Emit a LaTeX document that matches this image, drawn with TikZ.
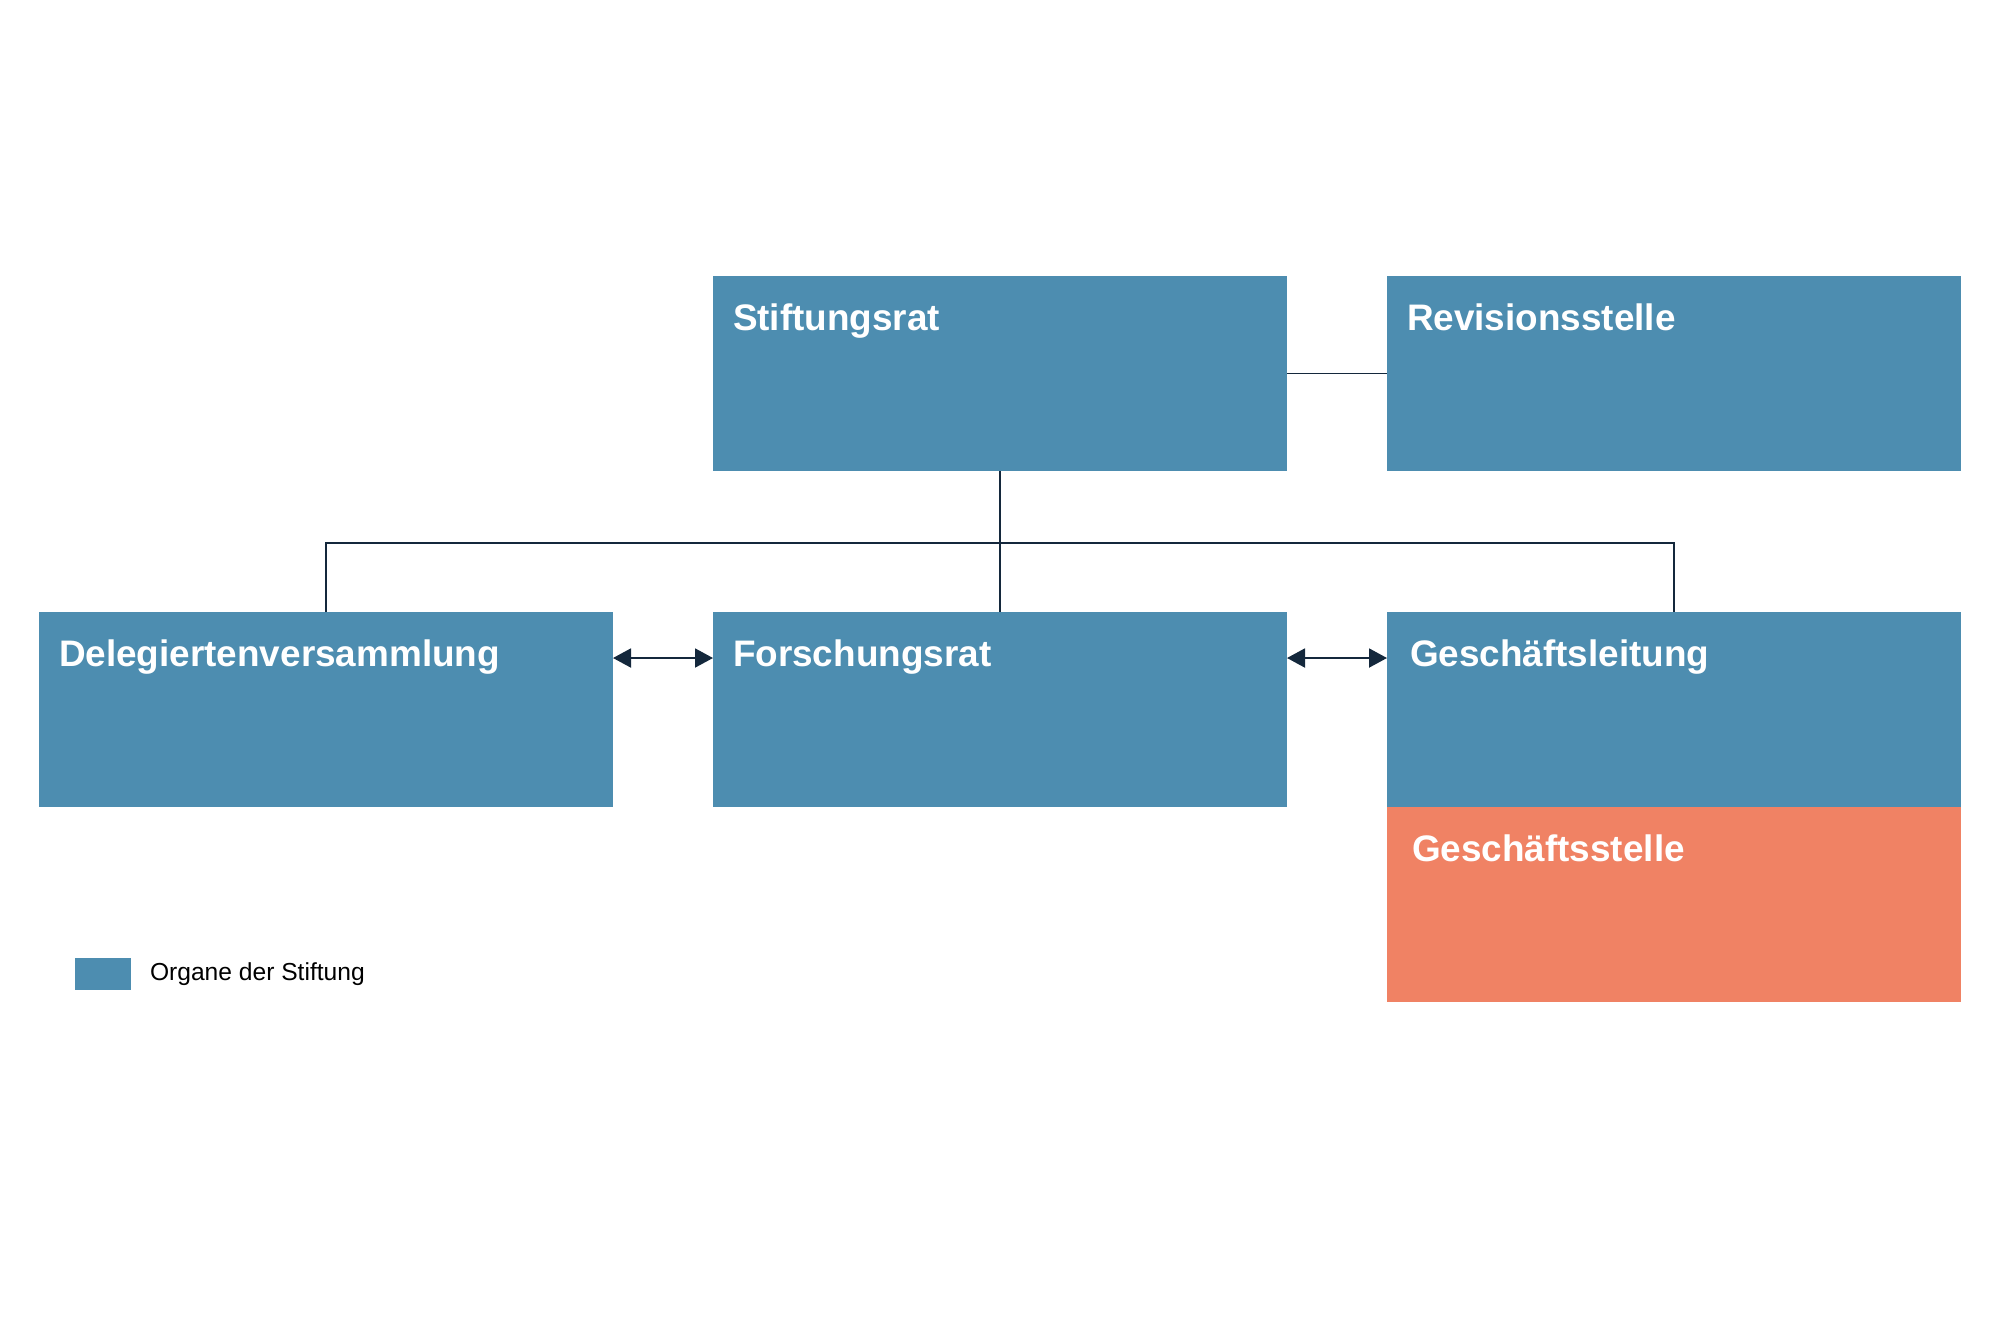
\documentclass[tikz,border=0pt]{standalone}
\usepackage{fontspec}
\setmainfont{Liberation Sans}
\usetikzlibrary{arrows.meta, positioning, calc}
\definecolor{organblau}{RGB}{77,141,176}
\definecolor{stellerot}{RGB}{240,130,100}
\definecolor{linie}{RGB}{20,40,60}
\tikzset{
  organ/.style={
    rectangle, fill=organblau, draw=none, inner xsep=0.4cm, inner ysep=0pt, outer sep=0pt,
    text width=10.68cm, align=left, text height=1.08cm, text depth=2.82cm,
    text=white, font=\bfseries\fontsize{21}{25}\selectfont
  },
  stelle/.style={
    organ, fill=stellerot
  },
  verbindung/.style={
    draw=linie, line width=0.8pt
  },
  pfeil/.style={
    {Triangle[length=0.36cm,width=0.38cm]}-{Triangle[length=0.36cm,width=0.38cm]},
    draw=linie, line width=1.1pt
  }
}

\begin{document}
\begin{tikzpicture}
\useasboundingbox (0,0) rectangle (40,-26.66);
% obere Reihe
\node[organ, anchor=north west] (stiftungsrat) at (14.26,-5.52) {Stiftungsrat};
\node[organ, right=2cm of stiftungsrat] (revision) {Revisionsstelle};
% untere Reihe
\node[organ, below=2.82cm of stiftungsrat] (forschungsrat) {Forschungsrat};
\node[organ, left=2cm of forschungsrat] (delegierte) {Delegiertenversammlung};
\node[organ, right=2cm of forschungsrat] (leitung) {\hspace*{0.06cm}Geschäftsleitung};
\node[stelle, below=0cm of leitung] (geschaeftsstelle) {\hspace*{0.1cm}Geschäftsstelle};
% Legende
\node[fill=organblau, minimum width=1.12cm, minimum height=0.64cm, inner sep=0pt, anchor=north west] (legende) at (1.5,-19.16) {};
\node[right=0.36cm of legende, inner sep=0pt, font=\fontsize{14}{17}\selectfont] (legtext) {Organe der Stiftung};
% Verbindungen
\coordinate (bus) at ([yshift=-1.44cm]stiftungsrat.south);
\draw[verbindung] (stiftungsrat) -- (revision);
\draw[verbindung] (stiftungsrat) -- (forschungsrat);
\draw[verbindung] (delegierte.north) |- (bus) -| (leitung.north);
\draw[pfeil] ([yshift=-0.92cm]delegierte.north east) -- ([yshift=-0.92cm]forschungsrat.north west);
\draw[pfeil] ([yshift=-0.92cm]forschungsrat.north east) -- ([yshift=-0.92cm]leitung.north west);
\end{tikzpicture}
\end{document}
